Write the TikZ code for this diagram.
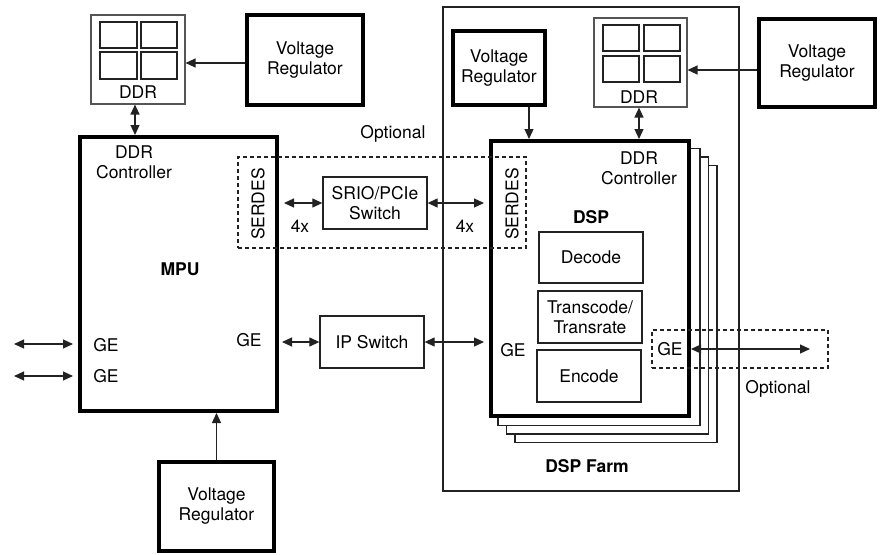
\documentclass[tikz,border=0pt]{standalone}
\usepackage{fontspec}
\setmainfont{TeX Gyre Heros}
\usetikzlibrary{arrows.meta,calc}
\definecolor{linec}{HTML}{222222}
\definecolor{greyc}{HTML}{555555}
\begin{document}
\begin{tikzpicture}[x=1pt,y=-1pt,
  font=\fontsize{17.5}{20}\selectfont,
  thickbox/.style={draw=black, line width=4pt, fill=white, align=center, inner sep=0pt},
  thinbox/.style={draw=linec, line width=1.3pt, fill=white, align=center, inner sep=0pt},
  ddrbox/.style={draw=greyc, line width=1.1pt, fill=white, inner sep=0pt},
  cell/.style={draw=linec, line width=1.2pt},
  dashbox/.style={draw=linec, line width=1.2pt, dash pattern=on 4pt off 3pt, inner sep=0pt},
  farmbox/.style={draw=linec, line width=1.5pt, inner sep=0pt},
  lbl/.style={inner sep=0pt, align=center},
  blbl/.style={inner sep=0pt, font=\fontsize{17.5}{20}\selectfont\bfseries},
  arr/.style={draw=linec, line width=1.2pt, -{Triangle[length=10pt,width=9pt]}},
  darr/.style={draw=linec, line width=1.2pt, {Triangle[length=10pt,width=9pt]}-{Triangle[length=10pt,width=9pt]}}
]
\useasboundingbox (0,0) rectangle (883,554);

% ---------- MPU side ----------
\node[ddrbox, minimum width=94pt, minimum height=89pt] (ddrL) at (138,59.5) {};
\draw[cell] (100,22) rectangle (137,48);
\draw[cell] (141,22) rectangle (177,48);
\draw[cell] (100,52) rectangle (137,79);
\draw[cell] (141,52) rectangle (177,79);
\node[lbl] (ddrLt) at (138,92) {DDR};

\node[thickbox, minimum width=116pt, minimum height=90pt] (vrTL) at (305,60) {Voltage\\Regulator};
\node[thickbox, minimum width=197pt, minimum height=274pt] (mpu) at (178.5,274) {};
\node[thickbox, minimum width=115pt, minimum height=89pt] (vrB) at (216.5,506.5) {Voltage\\Regulator};

\node[lbl] (mpuddrc) at (134,162) {DDR\\Controller};
\node[blbl] (mpul) at (180,269) {MPU};
\node[lbl] (geL1) at (106,345) {GE};
\node[lbl] (geL2) at (106,376) {GE};
\node[lbl] (geM) at (249,340) {GE};

% ---------- DSP farm ----------
\node[farmbox, minimum width=296pt, minimum height=484pt] (farm) at (591,249) {};
\node[blbl] (farml) at (587,466) {DSP Farm};

\node[thickbox, minimum width=92pt, minimum height=74pt] (vrD) at (499,68) {Voltage\\Regulator};
\node[ddrbox, minimum width=93pt, minimum height=89pt] (ddrR) at (640.5,62.5) {};
\draw[cell] (603,25) rectangle (639,51);
\draw[cell] (644,25) rectangle (680,51);
\draw[cell] (603,56) rectangle (639,82);
\draw[cell] (644,56) rectangle (680,82);
\node[lbl] (ddrRt) at (639,97) {DDR};
\node[thickbox, minimum width=116pt, minimum height=88pt] (vrR) at (817,63) {Voltage\\Regulator};

\node[thinbox, minimum width=202pt, minimum height=277pt] (dsp4) at (590+26,278.5+25.5) {};
\node[thinbox, minimum width=202pt, minimum height=277pt] (dsp3) at (590+17.5,278.5+17) {};
\node[thinbox, minimum width=202pt, minimum height=277pt] (dsp2) at (590+9,278.5+8.5) {};
\node[thickbox, minimum width=198pt, minimum height=275pt] (dsp) at (590,278.5) {};

\node[lbl] (dspddrc) at (639,168) {DDR\\Controller};
\node[blbl] (dspl) at (591,217) {DSP};
\node[thinbox, minimum width=104pt, minimum height=51pt] (decode) at (591,257.5) {Decode};
\node[thinbox, minimum width=104pt, minimum height=52pt] (transc) at (590,317) {Transcode/\\Transrate};
\node[thinbox, minimum width=104pt, minimum height=52pt] (encode) at (589,376) {Encode};
\node[lbl] (geD) at (513,350) {GE};

% ---------- interconnect ----------
\node[dashbox, minimum width=288pt, minimum height=91pt] (serdes) at (382,202.5) {};
\node[lbl] (optl1) at (393,134) {Optional};
\node[lbl, rotate=90] (serL) at (258,204) {SERDES};
\node[lbl, rotate=90] (serR) at (512,204) {SERDES};
\node[thinbox, minimum width=104pt, minimum height=52pt] (srio) at (375,203) {SRIO/PCIe\\Switch};
\node[lbl] (x4a) at (300,226) {4x};
\node[lbl] (x4b) at (465,226) {4x};
\node[thinbox, minimum width=104pt, minimum height=52pt] (ipsw) at (372,342) {IP Switch};

\node[dashbox, minimum width=176pt, minimum height=38pt] (geopt) at (740,349) {};
\node[lbl] (geO) at (670,349) {GE};
\node[lbl] (optl2) at (778,389) {Optional};

% ---------- connectors ----------
\coordinate (pA) at ($(vrTL.west)+(0,3)$);
\coordinate (pB) at ($(ddrL.south)+(-3,0)$);
\coordinate (pC) at ($(vrD.south)+(30,0)$);
\coordinate (pD) at ($(ddrR.south)+(-1.5,0)$);
\coordinate (pE) at ($(vrR.west)+(0,7)$);

\draw[arr] (pA) -- (pA -| ddrL.east);
\draw[darr] (pB) -- (pB |- mpu.north);
\draw[arr] (vrB.north) -- (vrB.north |- mpu.south);

\draw[arr] (pC) -- (pC |- dsp.north);
\draw[darr] (pD) -- (pD |- dsp.north);
\draw[arr] (pE) -- (pE -| ddrR.east);

\draw[darr, shorten <=5pt] (srio.west -| mpu.east) -- (srio.west);
\draw[darr, shorten >=5pt] (srio.east) -- (srio.east -| dsp.west);
\draw[darr, shorten <=3pt] (ipsw.west -| mpu.east) -- (ipsw.west);
\draw[darr, shorten >=5pt] (ipsw.east) -- (ipsw.east -| dsp.west);

\coordinate (geend) at (810,349);
\draw[darr] (geend -| dsp.east) -- (geend);

\coordinate (l1) at (14,344);
\coordinate (l2) at (14,376);
\draw[darr, shorten >=5pt] (l1) -- (l1 -| mpu.west);
\draw[darr, shorten >=5pt] (l2) -- (l2 -| mpu.west);
\end{tikzpicture}
\end{document}
